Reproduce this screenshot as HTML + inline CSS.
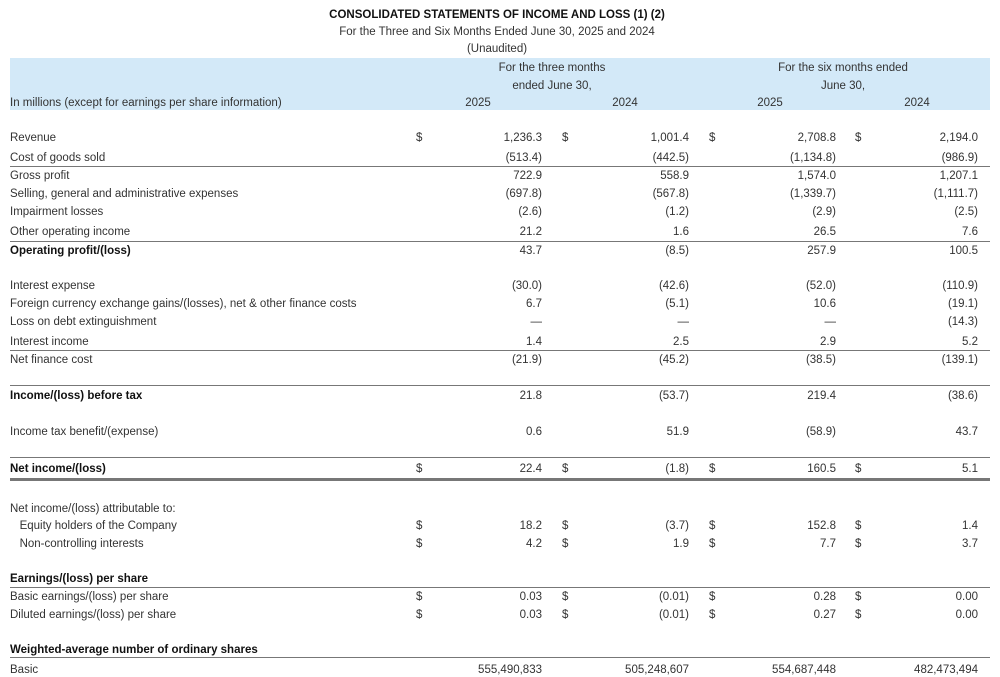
<!DOCTYPE html>
<html><head><meta charset="utf-8"><style>
body{margin:0;width:1000px;height:667px;overflow:hidden;background:#fff;font-family:"Liberation Sans",sans-serif;font-size:11.5px;color:#333;position:relative}
.t{position:absolute;white-space:nowrap;line-height:14px;transform:translateY(-6px)}
.c{transform:translate(-50%,-6px)}
.r{transform:translate(-100%,-6px)}
.b{font-weight:bold;color:#111}
.l{position:absolute;left:10px;width:980px;height:1px;background:#777}
</style></head><body>
<div style="position:absolute;left:10px;top:58px;width:980px;height:52px;background:#d3e9f8"></div>
<div class="t c b" style="left:497px;top:14px">CONSOLIDATED STATEMENTS OF INCOME AND LOSS (1) (2)</div>
<div class="t c" style="left:497px;top:31px">For the Three and Six Months Ended June 30, 2025 and 2024</div>
<div class="t c" style="left:497px;top:48px">(Unaudited)</div>
<div class="t c" style="left:552px;top:67px">For the three months</div>
<div class="t c" style="left:552px;top:85px">ended June 30,</div>
<div class="t c" style="left:843px;top:67px">For the six months ended</div>
<div class="t c" style="left:843px;top:85px">June 30,</div>
<div class="t" style="left:10px;top:102px">In millions (except for earnings per share information)</div>
<div class="t c" style="left:478px;top:102px">2025</div>
<div class="t c" style="left:625px;top:102px">2024</div>
<div class="t c" style="left:770px;top:102px">2025</div>
<div class="t c" style="left:917px;top:102px">2024</div>
<div class="l" style="top:166px"></div>
<div class="l" style="top:241px"></div>
<div class="l" style="top:350px"></div>
<div class="l" style="top:385px"></div>
<div class="l" style="top:457px"></div>
<div class="l" style="top:478px;height:3px"></div>
<div class="l" style="top:587px"></div>
<div class="l" style="top:657px"></div>
<div id="rows"></div>
<script>
const rows=[
[137,"Revenue",0,1,["1,236.3","1,001.4","2,708.8","2,194.0"]],
[157,"Cost of goods sold",0,0,["(513.4)","(442.5)","(1,134.8)","(986.9)"]],
[175,"Gross profit",0,0,["722.9","558.9","1,574.0","1,207.1"]],
[193,"Selling, general and administrative expenses",0,0,["(697.8)","(567.8)","(1,339.7)","(1,111.7)"]],
[211,"Impairment losses",0,0,["(2.6)","(1.2)","(2.9)","(2.5)"]],
[231,"Other operating income",0,0,["21.2","1.6","26.5","7.6"]],
[250,"Operating profit/(loss)",1,0,["43.7","(8.5)","257.9","100.5"]],
[285,"Interest expense",0,0,["(30.0)","(42.6)","(52.0)","(110.9)"]],
[303,"Foreign currency exchange gains/(losses), net & other finance costs",0,0,["6.7","(5.1)","10.6","(19.1)"]],
[321,"Loss on debt extinguishment",0,0,["—","—","—","(14.3)"]],
[341,"Interest income",0,0,["1.4","2.5","2.9","5.2"]],
[359,"Net finance cost",0,0,["(21.9)","(45.2)","(38.5)","(139.1)"]],
[395,"Income/(loss) before tax",1,0,["21.8","(53.7)","219.4","(38.6)"]],
[431,"Income tax benefit/(expense)",0,0,["0.6","51.9","(58.9)","43.7"]],
[468,"Net income/(loss)",1,1,["22.4","(1.8)","160.5","5.1"]],
[508,"Net income/(loss) attributable to:",0,0,null],
[525,"&nbsp;&nbsp;&nbsp;Equity holders of the Company",0,1,["18.2","(3.7)","152.8","1.4"]],
[543,"&nbsp;&nbsp;&nbsp;Non-controlling interests",0,1,["4.2","1.9","7.7","3.7"]],
[578,"Earnings/(loss) per share",1,0,null],
[596,"Basic earnings/(loss) per share",0,1,["0.03","(0.01)","0.28","0.00"]],
[614,"Diluted earnings/(loss) per share",0,1,["0.03","(0.01)","0.27","0.00"]],
[649,"Weighted-average number of ordinary shares",1,0,null],
[669,"Basic",0,0,["555,490,833","505,248,607","554,687,448","482,473,494"]]];
const dx=[416,562,709,855],vx=[542,689,836,978];let h="";
for(const [y,lab,b,d,v] of rows){
h+=`<div class="t${b?' b':''}" style="left:10px;top:${y}px">${lab}</div>`;
if(v)v.forEach((s,i)=>{h+=`<div class="t r" style="left:${vx[i]}px;top:${y}px">${s}</div>`;
if(d)h+=`<div class="t" style="left:${dx[i]}px;top:${y}px">$</div>`;});}
document.getElementById('rows').innerHTML=h;
</script>
</body></html>
